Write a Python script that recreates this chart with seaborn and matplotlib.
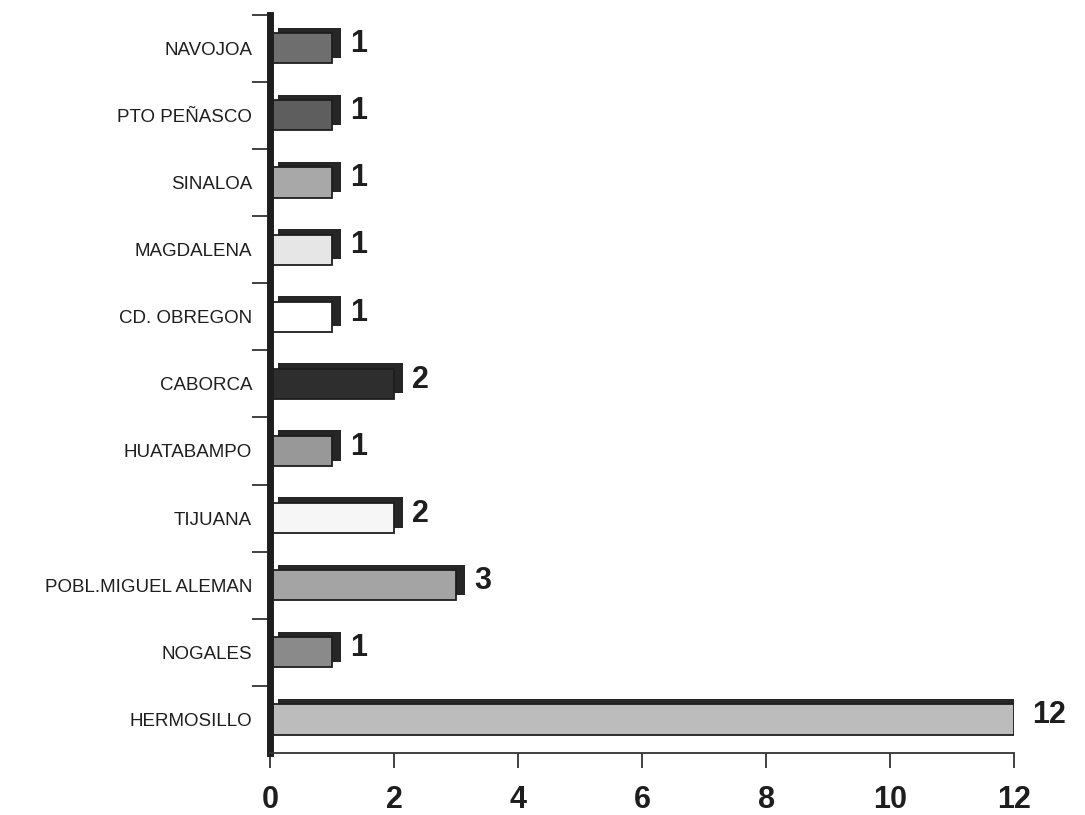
import matplotlib
matplotlib.use("Agg")
import matplotlib.pyplot as plt
import matplotlib.patheffects as pe
import seaborn as sns
import pandas as pd
import numpy as np

cities = ["NAVOJOA", "PTO PEÑASCO", "SINALOA", "MAGDALENA", "CD. OBREGON",
          "CABORCA", "HUATABAMPO", "TIJUANA", "POBL.MIGUEL ALEMAN", "NOGALES",
          "HERMOSILLO"]
counts = [1, 1, 1, 1, 1, 2, 1, 2, 3, 1, 12]
bar_colors = ["#6e6e6e", "#5e5e5e", "#a8a8a8", "#e6e6e6", "#ffffff",
              "#2e2e2e", "#989898", "#f6f6f6", "#a4a4a4", "#8a8a8a", "#bcbcbc"]
xticks = [0, 2, 4, 6, 8, 10, 12]

sns.set_theme(style="white")
plt.rcParams['font.family'] = ['Liberation Sans', 'DejaVu Sans']

df = pd.DataFrame({"city": cities, "count": counts})

fig = plt.figure(figsize=(10.85, 8.15), dpi=100)
ax = fig.add_axes([0.249, 0.076, 0.686, 0.906])

sns.barplot(data=df, x="count", y="city", hue="city", palette=bar_colors,
            legend=False, width=0.45, edgecolor="#1e1e1e", linewidth=1.3,
            saturation=1, ax=ax)

for p in ax.patches:
    p.set_path_effects([pe.SimplePatchShadow(offset=(6, 4), shadow_rgbFace="#262626", alpha=1.0),
                        pe.Normal()])

for p, v in zip(ax.patches, counts):
    ax.annotate(str(v), (p.get_width(), p.get_y() + p.get_height() / 2),
                xytext=(13, 3), textcoords="offset points", ha="left", va="center",
                fontsize=22, fontweight="bold", color="#1e1e1e")

ax.set_xlim(0, 12)
ax.set_ylim(len(cities) - 0.5, -0.5)
ax.set_xticks(xticks)
ax.set_xticklabels([str(t) for t in xticks], fontsize=22, fontweight="bold", color="#1e1e1e")
ax.set_xlabel("")
ax.set_ylabel("")
ax.tick_params(axis="x", direction="out", length=11, width=1.3, color="#333333", pad=12, bottom=True)
ax.tick_params(axis="y", which="major", length=0, pad=13, labelsize=13.5, labelcolor="#1e1e1e")
ax.set_yticks(np.arange(len(cities)) - 0.5, minor=True)
ax.tick_params(axis="y", which="minor", direction="out", length=13, width=1.3, color="#333333", left=True)

for s in ["top", "right"]:
    ax.spines[s].set_visible(False)
ax.spines["left"].set_linewidth(5)
ax.spines["left"].set_color("#1e1e1e")
ax.spines["bottom"].set_linewidth(1.3)
ax.spines["bottom"].set_color("#333333")

fig.savefig("out.png", dpi=100, facecolor="white")
